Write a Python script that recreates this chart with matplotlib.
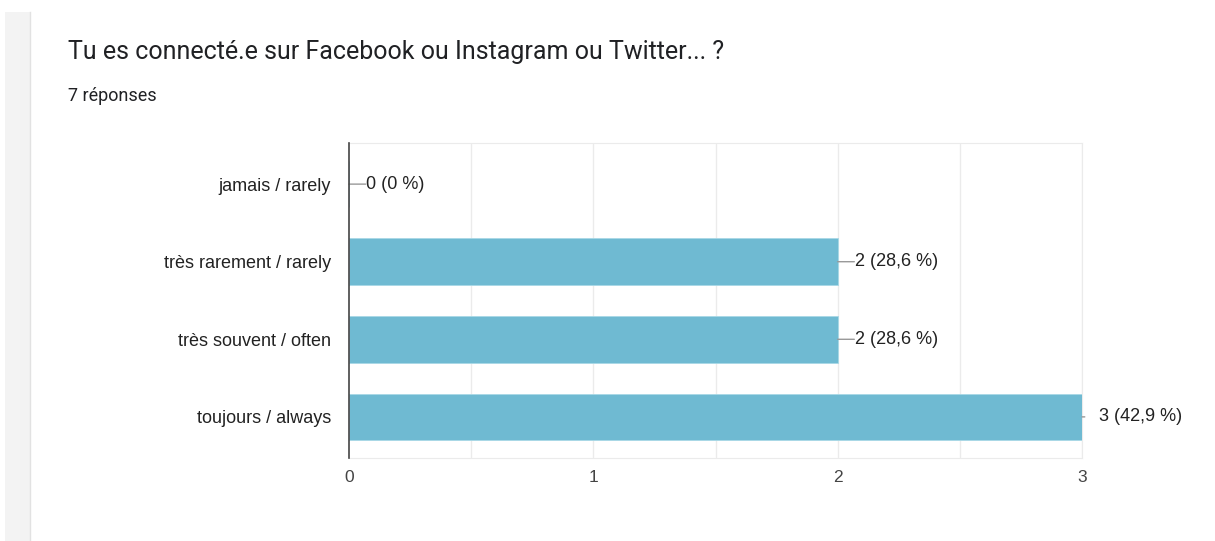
import matplotlib.pyplot as plt
from matplotlib.patches import Rectangle

# data
categories = ["jamais / rarely", "très rarement / rarely", "très souvent / often", "toujours / always"]
counts = [0, 2, 2, 3]
value_labels = ["0 (0 %)", "2 (28,6 %)", "2 (28,6 %)", "3 (42,9 %)"]
xticks = [0, 1, 2, 3]

W, H = 1215, 541
fig = plt.figure(figsize=(W / 100, H / 100), dpi=100)
fig.patch.set_facecolor("white")

### left gray strip of the form page
fig.add_artist(Rectangle((5 / W, 0), 25 / W, 1 - 12 / H, transform=fig.transFigure,
                         facecolor="#f3f3f3", edgecolor="none"))
fig.add_artist(plt.Line2D([30 / W, 30 / W], [0, 1 - 12 / H], transform=fig.transFigure,
                          color="#e2e2e2", lw=1))

fig.text(68 / W, 1 - 52 / H, "Tu es connecté.e sur Facebook ou Instagram ou Twitter... ?",
         fontsize=18, family="Roboto", color="#202124", va="center", ha="left")
fig.text(68 / W, 1 - 96 / H, "7 réponses", fontsize=13, family="Roboto",
         color="#202124", va="center", ha="left")

ax = fig.add_axes([349 / W, 1 - 458 / H, (1082 - 349) / W, (458 - 143) / H])
ypos = list(range(len(categories)))
ax.barh(ypos, counts, height=0.6, color="#6fbad2", edgecolor="#a8d8e6", linewidth=0.6, zorder=3)
ax.set_xlim(0, 3)
ax.set_ylim(3.53, -0.53)

### grid lines every 0.5
for gx in [0.5, 1, 1.5, 2, 2.5, 3]:
    ax.axvline(gx, color="#ebebeb", lw=1, zorder=1)
for s in ["top", "bottom", "right"]:
    ax.spines[s].set_color("#ebebeb")
ax.spines["left"].set_color("#444444")
ax.spines["left"].set_linewidth(1.2)
ax.spines["left"].set_zorder(4)

ax.set_yticks(ypos)
ax.set_yticklabels(categories, family="Liberation Sans", fontsize=13, color="#222222")
ax.set_xticks(xticks)
ax.set_xticklabels([str(t) for t in xticks], family="Liberation Sans", fontsize=12.5, color="#444444")
ax.tick_params(axis="y", length=0, pad=13)
ax.tick_params(axis="x", length=0, pad=9)

### value labels with small connector lines
for i, (v, lab) in enumerate(zip(counts, value_labels)):
    seg = 12 if v < ax.get_xlim()[1] else 2
    ax.annotate("", xy=(v, i), xytext=(seg, 0), textcoords="offset points",
                arrowprops=dict(arrowstyle="-", color="#999999", lw=1, shrinkA=0, shrinkB=0),
                annotation_clip=False)
    ax.annotate(lab, xy=(v, i), xytext=(12.5, 0), textcoords="offset points",
                va="center", ha="left", fontsize=13, family="Liberation Sans", color="#222222",
                annotation_clip=False)

fig.savefig("out.png", dpi=100)
